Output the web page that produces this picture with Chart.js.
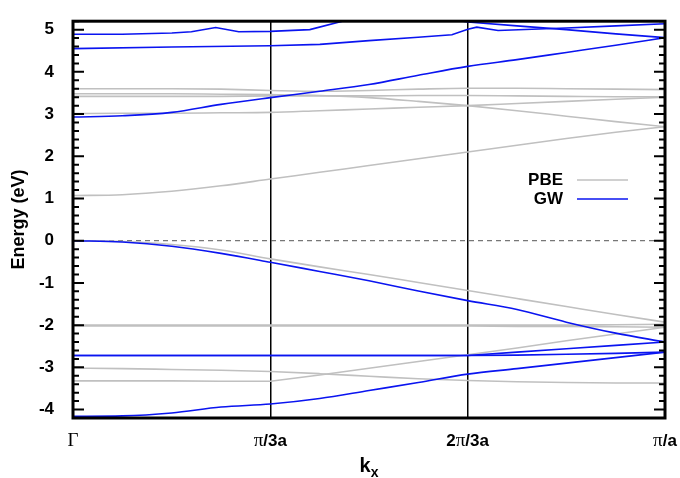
<!DOCTYPE html>
<html>
<head>
<meta charset="utf-8">
<script src="https://cdn.jsdelivr.net/npm/chart.js@4.4.0/dist/chart.umd.min.js"></script>
<style>
  html, body { margin: 0; padding: 0; background: #fff; }
</style>
</head>
<body>
<canvas id="chart" width="680" height="478"></canvas>
<script>
// k along Gamma -> pi/a, in units of pi/a
const kGrid = [0, 1/12, 2/12, 3/12, 4/12, 5/12, 6/12, 7/12, 8/12, 9/12, 10/12, 11/12, 1];

// PBE bands (eV), on kGrid
const pbeC1 = [1.07, 1.09, 1.17, 1.30, 1.46, 1.62, 1.78, 1.94, 2.10, 2.26, 2.42, 2.57, 2.70];
const pbeC2 = [3.60, 3.60, 3.60, 3.59, 3.56, 3.54, 3.56, 3.59, 3.61, 3.61, 3.60, 3.59, 3.58];
const pbeC3 = [3.48, 3.48, 3.48, 3.47, 3.46, 3.44, 3.39, 3.30, 3.20, 3.08, 2.95, 2.82, 2.70];
const pbeC4 = [3.42, 3.42, 3.42, 3.42, 3.43, 3.43, 3.43, 3.44, 3.44, 3.43, 3.42, 3.41, 3.41];
const pbeC5 = [3.01, 3.02, 3.02, 3.03, 3.04, 3.08, 3.12, 3.16, 3.20, 3.25, 3.30, 3.35, 3.40];
const pbeV1 = [0, -0.02, -0.09, -0.22, -0.43, -0.62, -0.80, -0.99, -1.18, -1.37, -1.56, -1.75, -1.93];
const pbeV2 = [-2.00, -2.00, -2.00, -2.00, -2.00, -2.00, -2.00, -2.00, -2.00, -2.00, -2.00, -1.99, -1.98];
const pbeV3 = [-2.02, -2.02, -2.02, -2.02, -2.02, -2.02, -2.02, -2.02, -2.02, -2.03, -2.03, -2.04, -2.05];
const pbeV4 = [-3.02, -3.03, -3.05, -3.07, -3.10, -3.15, -3.21, -3.27, -3.31, -3.34, -3.36, -3.37, -3.37];
const pbeV5 = [-3.32, -3.32, -3.32, -3.33, -3.33, -3.18, -3.02, -2.86, -2.70, -2.54, -2.37, -2.21, -2.05];

// GW bands (eV), on kGrid
const gwC1 = [2.93, 2.96, 3.04, 3.23, 3.39, 3.54, 3.70, 3.92, 4.13, 4.29, 4.46, 4.63, 4.81];
const gwV1 = [0, -0.03, -0.13, -0.30, -0.51, -0.73, -0.95, -1.19, -1.42, -1.63, -1.93, -2.19, -2.40];
const gwV2 = [-2.72, -2.72, -2.72, -2.72, -2.72, -2.72, -2.72, -2.72, -2.72, -2.64, -2.56, -2.48, -2.40];
const gwV3 = [-2.72, -2.72, -2.72, -2.72, -2.72, -2.72, -2.72, -2.72, -2.72, -2.71, -2.69, -2.67, -2.64];
const gwV4 = [-4.16, -4.15, -4.08, -3.94, -3.87, -3.74, -3.55, -3.36, -3.16, -3.03, -2.90, -2.77, -2.64];

// the two top GW bands have their own k points
const gwTopK = [0, 0.083, 0.167, 0.2, 0.241, 0.28, 0.333, 0.4, 0.455, 0.55, 0.667, 0.75, 0.833, 0.917, 1];
const gwTopE = [4.89, 4.89, 4.92, 4.95, 5.05, 4.95, 4.96, 5.0, 5.2, 5.45, 5.18, 5.09, 5.0, 4.9, 4.81];
const gwC2K = [0, 0.167, 0.333, 0.417, 0.5, 0.583, 0.64, 0.667, 0.682, 0.718, 0.833, 0.917, 1];
const gwC2E = [4.55, 4.59, 4.62, 4.65, 4.74, 4.82, 4.88, 5.01, 5.06, 4.98, 5.04, 5.09, 5.14];

const fermiLevel = 0;
const yMin = -4.2, yMax = 5.2;
const yTickVals = [-4, -3, -2, -1, 0, 1, 2, 3, 4, 5];
const xTickVals = [0, 1/3, 2/3, 1];
const xTickLabels = ['Γ', 'π/3a', '2π/3a', 'π/a'];
const legendNames = ['PBE', 'GW'];

const pbeColor = '#c0c0c0';
const gwColor = '#0a14f0';
const sans = '"Liberation Sans", Arial, sans-serif';
const serif = '"Liberation Serif", "Times New Roman", serif';

function band(k, e, color, order, smooth) {
  const ds = {
    data: k.map((x, i) => ({ x: x, y: e[i] })),
    borderColor: color,
    borderWidth: 1.6,
    pointRadius: 0,
    tension: 0,
    fill: false,
    order: order
  };
  if (smooth) ds.cubicInterpolationMode = 'monotone';
  return ds;
}

const datasets = [];
[gwC1, gwV1, gwV4].forEach(b => datasets.push(band(kGrid, b, gwColor, 0, true)));
[gwV2, gwV3].forEach(b => datasets.push(band(kGrid, b, gwColor, 0, false)));
datasets.push(band(gwTopK, gwTopE, gwColor, 0, false));
datasets.push(band(gwC2K, gwC2E, gwColor, 0, false));
[pbeC1, pbeC2, pbeC3, pbeC4, pbeC5, pbeV1, pbeV2, pbeV3, pbeV4]
  .forEach(b => datasets.push(band(kGrid, b, pbeColor, 1, true)));
datasets.push(band(kGrid, pbeV5, pbeColor, 1, false));
datasets.push({
  data: [{ x: kGrid[0], y: fermiLevel }, { x: kGrid[kGrid.length - 1], y: fermiLevel }],
  borderColor: '#555',
  borderWidth: 1,
  borderDash: [5, 4],
  pointRadius: 0,
  order: 2
});

// draws a label where Γ and π use the serif font, rest bold sans
function drawMixed(ctx, text, cx, y, size) {
  const parts = [];
  for (const ch of text) {
    const isSym = (ch === 'Γ' || ch === 'π');
    ctx.font = isSym ? (size + 2) + 'px ' + serif : 'bold ' + size + 'px ' + sans;
    parts.push({ ch: ch, font: ctx.font, w: ctx.measureText(ch).width });
  }
  let x = cx - parts.reduce((s, p) => s + p.w, 0) / 2;
  ctx.textAlign = 'left';
  ctx.textBaseline = 'alphabetic';
  for (const p of parts) {
    ctx.font = p.font;
    ctx.fillText(p.ch, x, y);
    x += p.w;
  }
}

const decor = {
  id: 'decor',
  afterDraw(chart) {
    const ctx = chart.ctx;
    const a = chart.chartArea;
    const xs = chart.scales.x, ys = chart.scales.y;
    ctx.save();
    ctx.strokeStyle = '#000';
    ctx.fillStyle = '#000';

    // inward ticks on left and right
    ctx.lineWidth = 2;
    for (let i = Math.round(yMin * 5); i <= Math.round(yMax * 5); i++) {
      const v = i / 5;
      const py = ys.getPixelForValue(v);
      const len = (i % 5 === 0) ? 11 : 6;
      ctx.beginPath();
      ctx.moveTo(a.left, py); ctx.lineTo(a.left + len, py);
      ctx.moveTo(a.right, py); ctx.lineTo(a.right - len, py);
      ctx.stroke();
    }

    // frame
    ctx.lineWidth = 3;
    ctx.strokeRect(a.left, a.top, a.right - a.left, a.bottom - a.top);

    // x tick labels
    xTickVals.forEach((v, i) => drawMixed(ctx, xTickLabels[i], xs.getPixelForValue(v), 446, 17));

    // axis titles
    ctx.font = 'bold 20px ' + sans;
    ctx.textAlign = 'left';
    const kw = ctx.measureText('k').width;
    ctx.font = 'bold 14px ' + sans;
    const xw = ctx.measureText('x').width;
    const kx = (a.left + a.right) / 2 - (kw + xw) / 2;
    ctx.font = 'bold 20px ' + sans;
    ctx.fillText('k', kx, 472);
    ctx.font = 'bold 14px ' + sans;
    ctx.fillText('x', kx + kw, 477);

    ctx.save();
    ctx.translate(19, (a.top + a.bottom) / 2);
    ctx.rotate(-Math.PI / 2);
    ctx.font = 'bold 18px ' + sans;
    ctx.textAlign = 'center';
    ctx.textBaseline = 'middle';
    ctx.fillText('Energy (eV)', 0, 0);
    ctx.restore();

    // legend
    ctx.font = 'bold 17px ' + sans;
    ctx.textAlign = 'right';
    ctx.textBaseline = 'middle';
    [pbeColor, gwColor].forEach((c, i) => {
      const ly = 180 + i * 19;
      ctx.fillStyle = '#000';
      ctx.fillText(legendNames[i], 563, ly);
      ctx.strokeStyle = c;
      ctx.lineWidth = 1.6;
      ctx.beginPath();
      ctx.moveTo(577, ly); ctx.lineTo(628, ly);
      ctx.stroke();
    });
    ctx.restore();
  }
};

new Chart(document.getElementById('chart'), {
  type: 'line',
  data: { datasets: datasets },
  options: {
    responsive: false,
    animation: false,
    events: [],
    layout: { padding: { top: 7, right: 15, left: 0, bottom: 0 } },
    plugins: { legend: { display: false }, tooltip: { enabled: false } },
    scales: {
      x: {
        type: 'linear',
        min: 0,
        max: 1,
        afterBuildTicks: s => { s.ticks = xTickVals.map(v => ({ value: v })); },
        afterFit: s => { s.height = 60; },
        ticks: { display: false },
        grid: { color: '#000', lineWidth: 1.5, drawTicks: false },
        border: { display: false }
      },
      y: {
        type: 'linear',
        min: yMin,
        max: yMax,
        afterBuildTicks: s => { s.ticks = yTickVals.map(v => ({ value: v })); },
        afterFit: s => { s.width = 73; },
        ticks: {
          color: '#000',
          padding: 11,
          font: { family: sans, size: 17, weight: 'bold' },
          callback: v => String(v)
        },
        grid: { display: false },
        border: { display: false }
      }
    }
  },
  plugins: [decor]
});
</script>
</body>
</html>
